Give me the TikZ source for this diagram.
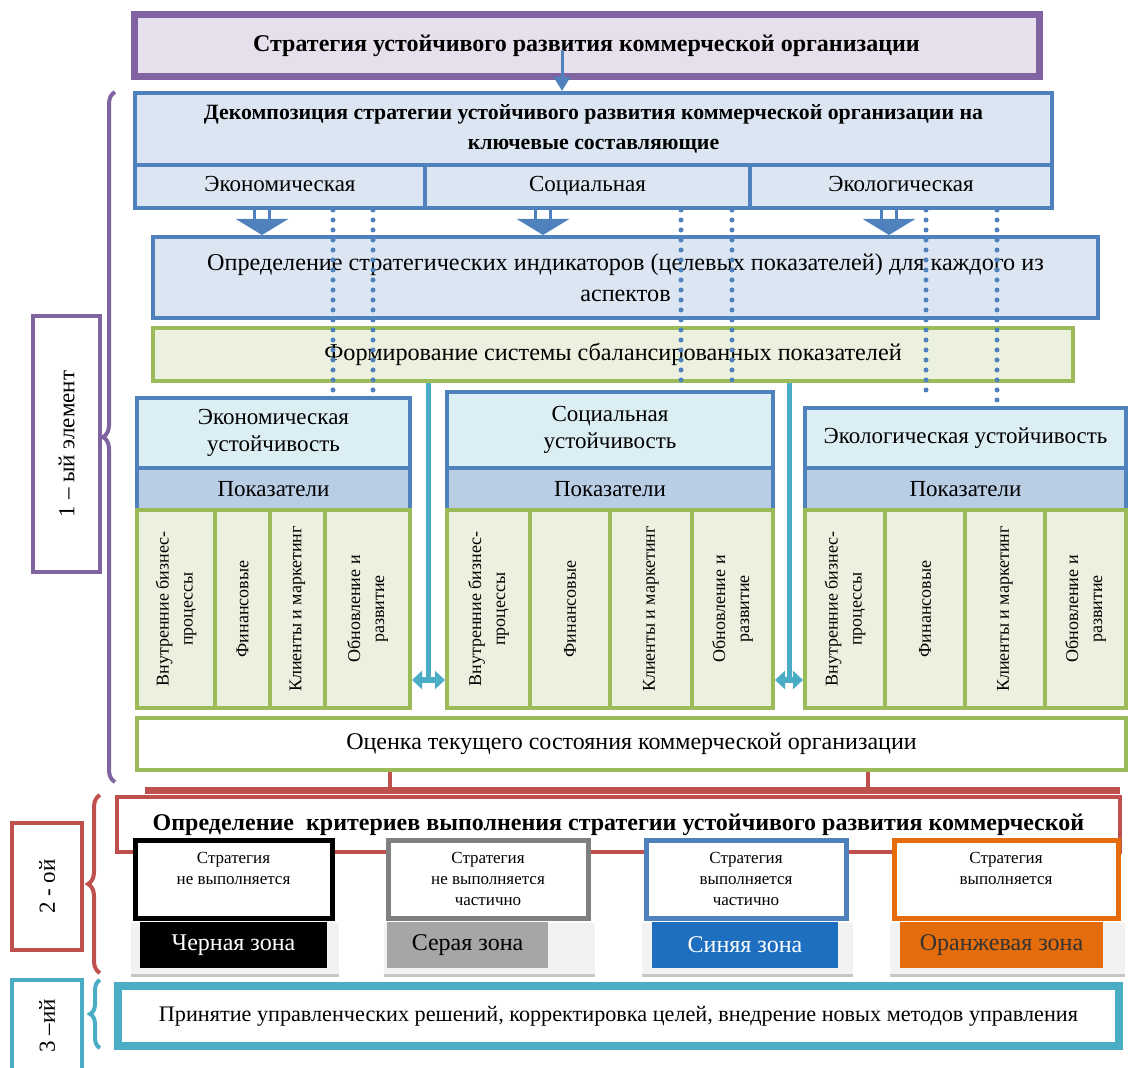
\documentclass[tikz,border=0pt]{standalone}
\usepackage{fontspec}
\setmainfont{Liberation Serif}
\usetikzlibrary{arrows.meta,decorations.pathreplacing}

\definecolor{purp}{HTML}{8064A2}
\definecolor{lavender}{HTML}{E6E0EC}
\definecolor{blueline}{HTML}{4F81BD}
\definecolor{bluefill}{HTML}{DCE6F2}
\definecolor{bluehead}{HTML}{DBEEF4}
\definecolor{bluebar}{HTML}{B9CDE5}
\definecolor{greenline}{HTML}{9BBB59}
\definecolor{greenfill}{HTML}{EBF1DE}
\definecolor{redline}{HTML}{C0504D}
\definecolor{cyanline}{HTML}{4BACC6}
\definecolor{grayline}{HTML}{7F7F7F}
\definecolor{grayfill}{HTML}{A6A6A6}
\definecolor{zoneblue}{HTML}{1F6FC0}
\definecolor{zoneorange}{HTML}{E46C0A}

\tikzset{
  sz/.style 2 args={minimum width=#1*0.5pt, minimum height=#2*0.5pt},
  box/.style={draw, inner sep=0pt, line width=2pt, align=center},
  bluebox/.style={box, draw=blueline, fill=bluefill},
  rowbox/.style={bluebox, text height=1.6ex, text depth=0.4ex, font=\fontsize{11.5}{14}\selectfont},
  greenbox/.style={box, draw=greenline, fill=greenfill},
  headbox/.style={box, draw=blueline, fill=bluehead, font=\fontsize{11.5}{13.5}\selectfont},
  barbox/.style={box, draw=blueline, fill=bluebar, font=\fontsize{11.5}{13.5}\selectfont},
  colbox/.style={box, draw=greenline, fill=greenfill, rotate=90, font=\fontsize{9}{12}\selectfont},
  zonebox/.style={box, line width=2.5pt, fill=white},
  zonetxt/.style={inner sep=0pt, align=center, anchor=north, font=\fontsize{8.5}{10.5}\selectfont},
  zonename/.style={inner sep=0pt, align=center, font=\fontsize{12}{14}\selectfont},
  sidebox/.style={box, fill=white, rotate=90, font=\fontsize{11.5}{14}\selectfont},
  hollow/.style={draw=blueline, line width=1.5pt, double=white, double distance=6pt,
    -{Triangle[width=26pt, length=8pt]}},
  dotline/.style={draw=blueline, line width=2.5pt, dash pattern=on 0pt off 5pt, line cap=round},
  cyanarr/.style={draw=cyanline, line width=2.5pt, {Triangle[width=9pt, length=5pt]}-{Triangle[width=9pt, length=5pt]}},
  bracestyle/.style={decorate, decoration={brace, amplitude=6pt}, line width=2pt}
}

\begin{document}
\begin{tikzpicture}[x=0.5pt, y=-0.5pt]
\useasboundingbox (0,0) rectangle (1129,1068);

% Strategy
\node[box, draw=purp, line width=2.5pt, fill=lavender, sz={907}{64},
  font=\bfseries\fontsize{12}{14}\selectfont] (strat) at (586.5,46)
  {Стратегия устойчивого развития коммерческой организации};
\draw[purp, line width=1pt] ([shift={(6,6)}]strat.north west) rectangle ([shift={(-6,-6)}]strat.south east);

% Decomposition
\node[bluebox, sz={917}{72}, font=\bfseries\fontsize{10.9}{15}\selectfont] (decomp) at (593.5,129)
  {Декомпозиция стратегии устойчивого развития коммерческой организации на\\ключевые составляющие};
\node[rowbox, sz={290}{43}] (econ) at (280,186.5) {Экономическая};
\node[rowbox, sz={325}{43}] (soc) at (587.5,186.5) {Социальная};
\node[rowbox, sz={302}{43}] (eco) at (901,186.5) {Экологическая};

\coordinate (a0) at (562,50);
\draw[blueline, line width=1.5pt, -{Triangle[width=8pt, length=7pt]}] (a0) -- (a0 |- decomp.north);

% Indicators and scorecard
\node[bluebox, sz={945}{81}, font=\fontsize{12.1}{15.5}\selectfont] (ind) at (625.5,277.5)
  {Определение стратегических индикаторов (целевых показателей) для каждого из\\аспектов};
\node[greenbox, sz={920}{53}, font=\fontsize{12.1}{14}\selectfont] (bsc) at (613,354.5)
  {Формирование системы сбалансированных показателей};

% Economic sustainability
\node[headbox, sz={273}{70}] (eh) at (273.5,433) {Экономическая\\устойчивость};
\node[barbox, sz={273}{42}] (ep) at (273.5,489) {Показатели};
\node[colbox, sz={198}{78}] (ec1) at (176,609) {Внутренние бизнес-\\процессы};
\node[colbox, sz={198}{55}] (ec2) at (242.5,609) {Финансовые};
\node[colbox, sz={198}{55}] (ec3) at (297.5,609) {Клиенты и маркетинг};
\node[colbox, sz={198}{85}] (ec4) at (367.5,609) {Обновление и\\развитие};

% Social sustainability
\node[headbox, sz={326}{76}] (sh) at (610,430) {Социальная\\устойчивость};
\node[barbox, sz={326}{42}] (sp) at (610,489) {Показатели};
\node[colbox, sz={198}{83}] (sc1) at (488.5,609) {Внутренние бизнес-\\процессы};
\node[colbox, sz={198}{80}] (sc2) at (570,609) {Финансовые};
\node[colbox, sz={198}{82}] (sc3) at (651,609) {Клиенты и маркетинг};
\node[colbox, sz={198}{81}] (sc4) at (732.5,609) {Обновление и\\развитие};

% Ecological sustainability
\node[headbox, sz={321}{60}] (kh) at (965.5,438) {Экологическая устойчивость};
\node[barbox, sz={321}{42}] (kp) at (965.5,489) {Показатели};
\node[colbox, sz={198}{80}] (kc1) at (845,609) {Внутренние бизнес-\\процессы};
\node[colbox, sz={198}{80}] (kc2) at (925,609) {Финансовые};
\node[colbox, sz={198}{80}] (kc3) at (1005,609) {Клиенты и маркетинг};
\node[colbox, sz={198}{81}] (kc4) at (1085.5,609) {Обновление и\\развитие};

% Arrows from the components
\coordinate (h1) at (262,0);
\coordinate (h2) at (543,0);
\coordinate (h3) at (889,0);
\foreach \h/\c in {h1/econ, h2/soc, h3/eco}
  \draw[hollow] (\h |- \c.south) -- (\h |- ind.north);

% Dotted links
\coordinate (d1) at (333,0);
\coordinate (d2) at (373,0);
\coordinate (d3) at (681,0);
\coordinate (d4) at (732,0);
\coordinate (d5) at (926,397);
\coordinate (d6) at (997,0);
\draw[dotline] (d1 |- econ.south) -- (d1 |- eh.north);
\draw[dotline] (d2 |- econ.south) -- (d2 |- eh.north);
\draw[dotline] (d3 |- soc.south) -- ([yshift=-1pt]d3 |- bsc.south);
\draw[dotline] (d4 |- soc.south) -- ([yshift=-1pt]d4 |- bsc.south);
\draw[dotline] (d5 |- eco.south) -- (d5);
\draw[dotline] (d6 |- eco.south) -- (d6 |- kh.north);

% Links between the blocks
\coordinate (c1) at (428,680);
\coordinate (c2) at (789,680);
\draw[cyanline, line width=2.5pt] (c1 |- bsc.south) -- (c1);
\draw[cyanline, line width=2.5pt] (c2 |- bsc.south) -- (c2);
\draw[cyanarr] (c1 -| ec4.south) -- (c1 -| sc1.north);
\draw[cyanarr] (c2 -| sc4.south) -- (c2 -| kc1.north);

% Assessment
\node[box, draw=greenline, fill=white, sz={989}{52}, font=\fontsize{12}{14}\selectfont] (ocen) at (631.5,744)
  {Оценка текущего состояния коммерческой организации};

% Criteria
\coordinate (rb0) at (145,790);
\coordinate (rb1) at (1120,790);
\coordinate (r1) at (390,0);
\coordinate (r2) at (868,0);
\draw[redline, line width=2pt] (r1 |- ocen.south) -- (r1 |- rb0);
\draw[redline, line width=2pt] (r2 |- ocen.south) -- (r2 |- rb0);
\draw[redline, line width=3.5pt] (rb0) -- (rb1);
\node[box, draw=redline, fill=white, sz={1003}{55}, font=\bfseries\fontsize{12}{14}\selectfont] (crit) at (618.5,824.5)
  {Определение\ \ критериев выполнения стратегии устойчивого развития коммерческой};

% Zones
\node[zonebox, draw=black, sz={197}{78}] (zb) at (233.5,879) {};
\node[zonebox, draw=grayline, sz={200}{78}] (zg) at (488,879) {};
\node[zonebox, draw=blueline, sz={200}{78}] (zl) at (746,879) {};
\node[zonebox, draw=zoneorange, sz={224}{78}] (zo) at (1006,879) {};
\node[zonetxt] (zbt) at ([yshift=-7pt]zb.north) {Стратегия\\не выполняется};
\node[zonetxt] (zgt) at ([yshift=-7pt]zg.north) {Стратегия\\не выполняется\\частично};
\node[zonetxt] (zlt) at ([yshift=-7pt]zl.north) {Стратегия\\выполняется\\частично};
\node[zonetxt] (zot) at ([yshift=-7pt]zo.north) {Стратегия\\выполняется};
\foreach \z in {zb, zg, zl, zo} {
  \fill[black!5] ([shift={(-2,2)}]\z.south west) rectangle ([shift={(4,55)}]\z.south east);
  \draw[black!22, line width=1.2pt] ([shift={(-2,55)}]\z.south west) -- ([shift={(4,55)}]\z.south east);
}
\node[zonename, fill=black, text=white, sz={187}{46}] (nb) at (233.5,945) {Черная зона};
\node[zonename, fill=grayfill, sz={161}{46}] (ng) at (467.5,945) {Серая зона};
\node[zonename, fill=zoneblue, text=white, sz={186}{46}] (nl) at (745,945) {Синяя зона};
\node[zonename, fill=zoneorange, text=black!80, sz={203}{46}] (no) at (1001.5,945) {Оранжевая зона};

% Decisions
\node[box, draw=cyanline, line width=3pt, fill=white, sz={1003}{62}, font=\fontsize{11.1}{13}\selectfont] (upr) at (618.5,1016)
  {Принятие управленческих решений, корректировка целей, внедрение новых методов управления};
\draw[cyanline, line width=1pt] ([shift={(7,7)}]upr.north west) rectangle ([shift={(-7,-7)}]upr.south east);

% Stages
\node[sidebox, draw=purp, sz={256}{67}] (l1) at (66.5,444) {1 – ый элемент};
\node[sidebox, draw=redline, sz={127}{70}] (l2) at (47,886.5) {2 - ой};
\node[sidebox, draw=cyanline, sz={92}{70}] (l3) at (47,1026) {3 –ий};
\draw[purp, bracestyle] (115,782) -- (115,92);
\draw[redline, bracestyle] (100,973) -- (100,795);
\draw[cyanline, bracestyle, decoration={amplitude=5pt}] (100,1048) -- (100,980);
\end{tikzpicture}
\end{document}
